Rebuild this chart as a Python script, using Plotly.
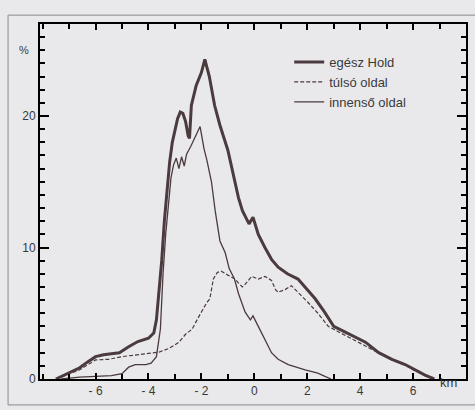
import plotly.graph_objects as go

# ---- data ----
whole_km = [-7.5, -7.0, -6.6, -6.3, -6.0, -5.7, -5.5, -5.1, -4.75, -4.4, -4.0, -3.8, -3.7, -3.6, -3.5,
            -3.4, -3.3, -3.2, -3.1, -3.0, -2.9, -2.8, -2.7, -2.6, -2.5, -2.45, -2.38, -2.2, -2.0, -1.87,
            -1.7, -1.5, -1.3, -1.0, -0.8, -0.6, -0.45, -0.3, -0.2, -0.05, 0.15, 0.4, 0.65, 0.9, 1.25,
            1.65, 1.9, 2.3, 2.65, 3.0, 3.4, 3.7, 4.2, 4.7, 5.2, 5.7, 6.05, 6.45, 6.8]
whole_pct = [0, 0.45, 0.85, 1.3, 1.7, 1.85, 1.9, 2.0, 2.45, 2.85, 3.1, 3.5, 4.5, 6.5, 9.0,
             12.0, 14.5, 16.5, 18.0, 19.0, 19.8, 20.3, 20.2, 19.6, 18.5, 18.3, 20.8, 22.3, 23.3, 24.3,
             23.0, 20.8, 19.3, 17.4, 15.5, 13.8, 12.8, 12.2, 11.8, 12.3, 11.0, 10.0, 9.1, 8.5, 8.0,
             7.6, 7.0, 6.1, 5.1, 4.0, 3.6, 3.3, 2.8, 2.0, 1.5, 1.1, 0.7, 0.3, 0]

far_km = [-7.5, -7.0, -6.6, -6.0, -5.5, -5.0, -4.5, -4.0, -3.6, -3.25, -3.0, -2.85, -2.6, -2.35,
          -2.0, -1.8, -1.68, -1.6, -1.55, -1.4, -1.25, -1.0, -0.73, -0.6, -0.45, -0.35, -0.2, -0.1,
          0.15, 0.4, 0.65, 0.8, 0.9, 1.16, 1.4, 1.66, 2.04, 2.4, 2.8, 3.17, 3.5, 4.0, 4.7, 5.2,
          5.7, 6.05, 6.45, 6.8]
far_pct = [0, 0.4, 0.7, 1.45, 1.5, 1.7, 1.85, 1.95, 2.05, 2.3, 2.6, 2.8, 3.4, 3.8,
           5.1, 5.8, 6.1, 6.9, 7.6, 8.1, 8.2, 7.9, 7.6, 7.3, 7.0, 7.2, 7.6, 7.8,
           7.6, 7.8, 7.5, 6.8, 6.6, 6.8, 7.1, 6.6, 5.8, 5.0, 4.0, 3.6, 3.25, 2.75, 1.95, 1.45,
           1.05, 0.65, 0.28, 0]

near_km = [-7.3, -6.6, -6.0, -5.4, -5.0, -4.75, -4.5, -4.1, -3.9, -3.7, -3.55, -3.5, -3.45, -3.35,
           -3.25, -3.15, -3.05, -2.95, -2.85, -2.75, -2.65, -2.56, -2.4, -2.2, -2.05, -1.9, -1.8,
           -1.62, -1.48, -1.3, -1.1, -0.95, -0.75, -0.6, -0.35, -0.15, -0.05, 0.15, 0.4, 0.65, 0.9,
           1.28, 1.92, 2.4, 2.67, 2.9]
near_pct = [0, 0.15, 0.2, 0.25, 0.4, 0.9, 1.1, 1.1, 1.2, 1.7, 3.8, 6.3, 8.0, 11.0,
            13.5, 15.3, 16.3, 16.8, 16.0, 16.9, 16.2, 17.1, 17.7, 18.6, 19.2, 17.5, 16.7,
            15.0, 12.8, 10.5, 9.6, 8.4, 7.6, 6.5, 5.1, 4.5, 4.8, 4.0, 3.0, 2.0, 1.5,
            1.1, 0.7, 0.45, 0.2, 0]

x_tickvals = [-6, -4, -2, 0, 2, 4, 6]
x_ticktext = ["- 6", "- 4", "- 2", "0", "2", "4", "6"]
y_tickvals = [0, 10, 20]
names = ["egész Hold", "túlsó oldal", "innenső oldal"]

ink = "#4b3a3e"
axis_ink = "black"
bg = "#e9e9ec"

fig = go.Figure()
fig.add_trace(go.Scatter(x=whole_km, y=whole_pct, mode="lines", name=names[0],
                         line=dict(color=ink, width=3)))
fig.add_trace(go.Scatter(x=far_km, y=far_pct, mode="lines", name=names[1],
                         line=dict(color=ink, width=1.2, dash="4px,2px")))
fig.add_trace(go.Scatter(x=near_km, y=near_pct, mode="lines", name=names[2],
                         line=dict(color=ink, width=1.3)))

fig.update_layout(
    width=475, height=410,
    margin=dict(l=40, r=7, t=24, b=31),
    paper_bgcolor=bg, plot_bgcolor=bg,
    font=dict(family="Liberation Sans, Arial, sans-serif", size=12, color="#3a3a3a"),
    showlegend=True,
    legend=dict(x=0.585, y=0.935, xanchor="left", yanchor="top",
                bgcolor="rgba(0,0,0,0)", font=dict(size=13, color="#3a3a3a"),
                itemwidth=30, tracegroupgap=0),
    xaxis=dict(range=[-8.1, 8.0], tickvals=x_tickvals, ticktext=x_ticktext,
               ticks="inside", ticklen=6, tickcolor=axis_ink, tickwidth=2,
               showline=True, linecolor=axis_ink, linewidth=2, mirror="ticks",
               showgrid=False, zeroline=False,
               minor=dict(dtick=1, ticks="inside", ticklen=5, tickcolor=axis_ink,
                          tickwidth=2, showgrid=False)),
    yaxis=dict(range=[0, 27.0], tickvals=y_tickvals,
               ticks="inside", ticklen=9, tickcolor=axis_ink, tickwidth=2,
               showline=True, linecolor=axis_ink, linewidth=2, mirror="ticks",
               showgrid=False, zeroline=False,
               minor=dict(dtick=1, ticks="inside", ticklen=5, tickcolor=axis_ink,
                          tickwidth=2, showgrid=False)),
)

fig.add_annotation(text="%", xref="paper", yref="paper", x=-0.053, y=0.948,
                   showarrow=False, font=dict(size=11, color="#3a3a3a"))
fig.add_annotation(text="km", xref="paper", yref="paper", x=0.983, y=-0.037,
                   showarrow=False, font=dict(size=13, color="#3a3a3a"))
fig.add_shape(type="rect", xref="paper", yref="paper", x0=-0.075, x1=1.05, y0=-0.073, y1=1.025,
              layer="below", fillcolor="rgba(0,0,0,0)",
              line=dict(color="#8a8a8a", width=1))

fig.write_html("out.html", config={"displayModeBar": False},
               post_script="document.body.style.margin='0';")
